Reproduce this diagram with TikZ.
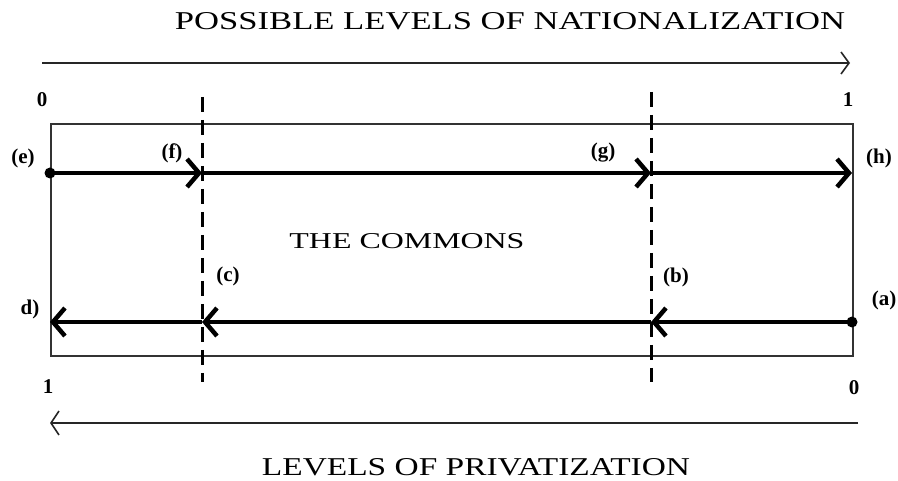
\documentclass[tikz,border=0pt]{standalone}
\usepackage{fontspec}
\setmainfont{Liberation Serif}
\usetikzlibrary{arrows.meta}
\begin{document}
\begin{tikzpicture}[x=1pt,y=-1pt,
  thin axis/.style={line width=1.6pt, draw=black!85},
  flow/.style={line width=4.5pt, -{Straight Barb[length=12pt,width=28pt]}},
  divider/.style={line width=3pt, dash pattern=on 15pt off 8pt},
  lbl/.style={font=\fontsize{21}{21}\selectfont\bfseries, inner sep=0pt},
  dotnode/.style={circle, fill=black, minimum size=11pt, inner sep=0pt}]
\useasboundingbox (0,0) rectangle (898,481);
\fill[white] (0,0) rectangle (898,481);
% titles
\node[inner sep=0pt] (ttop) at (510,21) {\resizebox{670pt}{17pt}{POSSIBLE LEVELS OF NATIONALIZATION}};
\node[inner sep=0pt] (tbot) at (476,467) {\resizebox{428pt}{17pt}{LEVELS OF PRIVATIZATION}};
\node[inner sep=0pt] (commons) at (407,241) {\resizebox{235pt}{15pt}{THE COMMONS}};
% top axis
\coordinate (ta0) at (42,63);
\coordinate (ta1) at (850,63);
\draw[thin axis, -{Straight Barb[length=8pt,width=22pt]}] (ta0) -- (ta1);
\node[lbl] (n0) at (42,100) {0};
\node[lbl] (n1) at (848,100) {1};
% box
\node[draw=black!80, line width=2pt, minimum width=802pt, minimum height=232pt, inner sep=0pt, anchor=north west] (box) at (50,123) {};
% dividers
\coordinate (d1t) at (202,97);
\coordinate (d1b) at (202,382);
\coordinate (d2t) at (651,92);
\coordinate (d2b) at (651,382);
\draw[divider] (d1t) -- (d1b);
\draw[divider] (d2t) -- (d2b);
% top flow
\node[dotnode] (e) at (50,173) {};
\coordinate (f) at (202,173);
\coordinate (g) at (651,173);
\coordinate (h) at (852,173);
\draw[flow] (e.center) -- (f);
\draw[flow] (f) -- (g);
\draw[flow] (g) -- (h);
% bottom flow
\node[dotnode] (a) at (852,322) {};
\coordinate (b) at (651,322);
\coordinate (c) at (202,322);
\coordinate (d) at (50,322);
\draw[flow] (a.center) -- (b);
\draw[flow] (b) -- (c);
\draw[flow] (c) -- (d);
% labels
\node[lbl] (le) at (23,158) {(e)};
\node[lbl] (lf) at (172,153) {(f)};
\node[lbl] (lg) at (603,153) {(g)};
\node[lbl] (lh) at (879,158) {(h)};
\node[lbl] (la) at (884,300) {(a)};
\node[lbl] (lb) at (676,277) {(b)};
\node[lbl] (lc) at (228,276) {(c)};
\node[lbl] (ld) at (30,309) {d)};
% bottom axis
\node[lbl] (m1) at (48,387) {1};
\node[lbl] (m0) at (854,388) {0};
\coordinate (ba0) at (858,423);
\coordinate (ba1) at (50,423);
\draw[thin axis, -{Straight Barb[length=8pt,width=24pt]}] (ba0) -- (ba1);
\end{tikzpicture}
\end{document}
